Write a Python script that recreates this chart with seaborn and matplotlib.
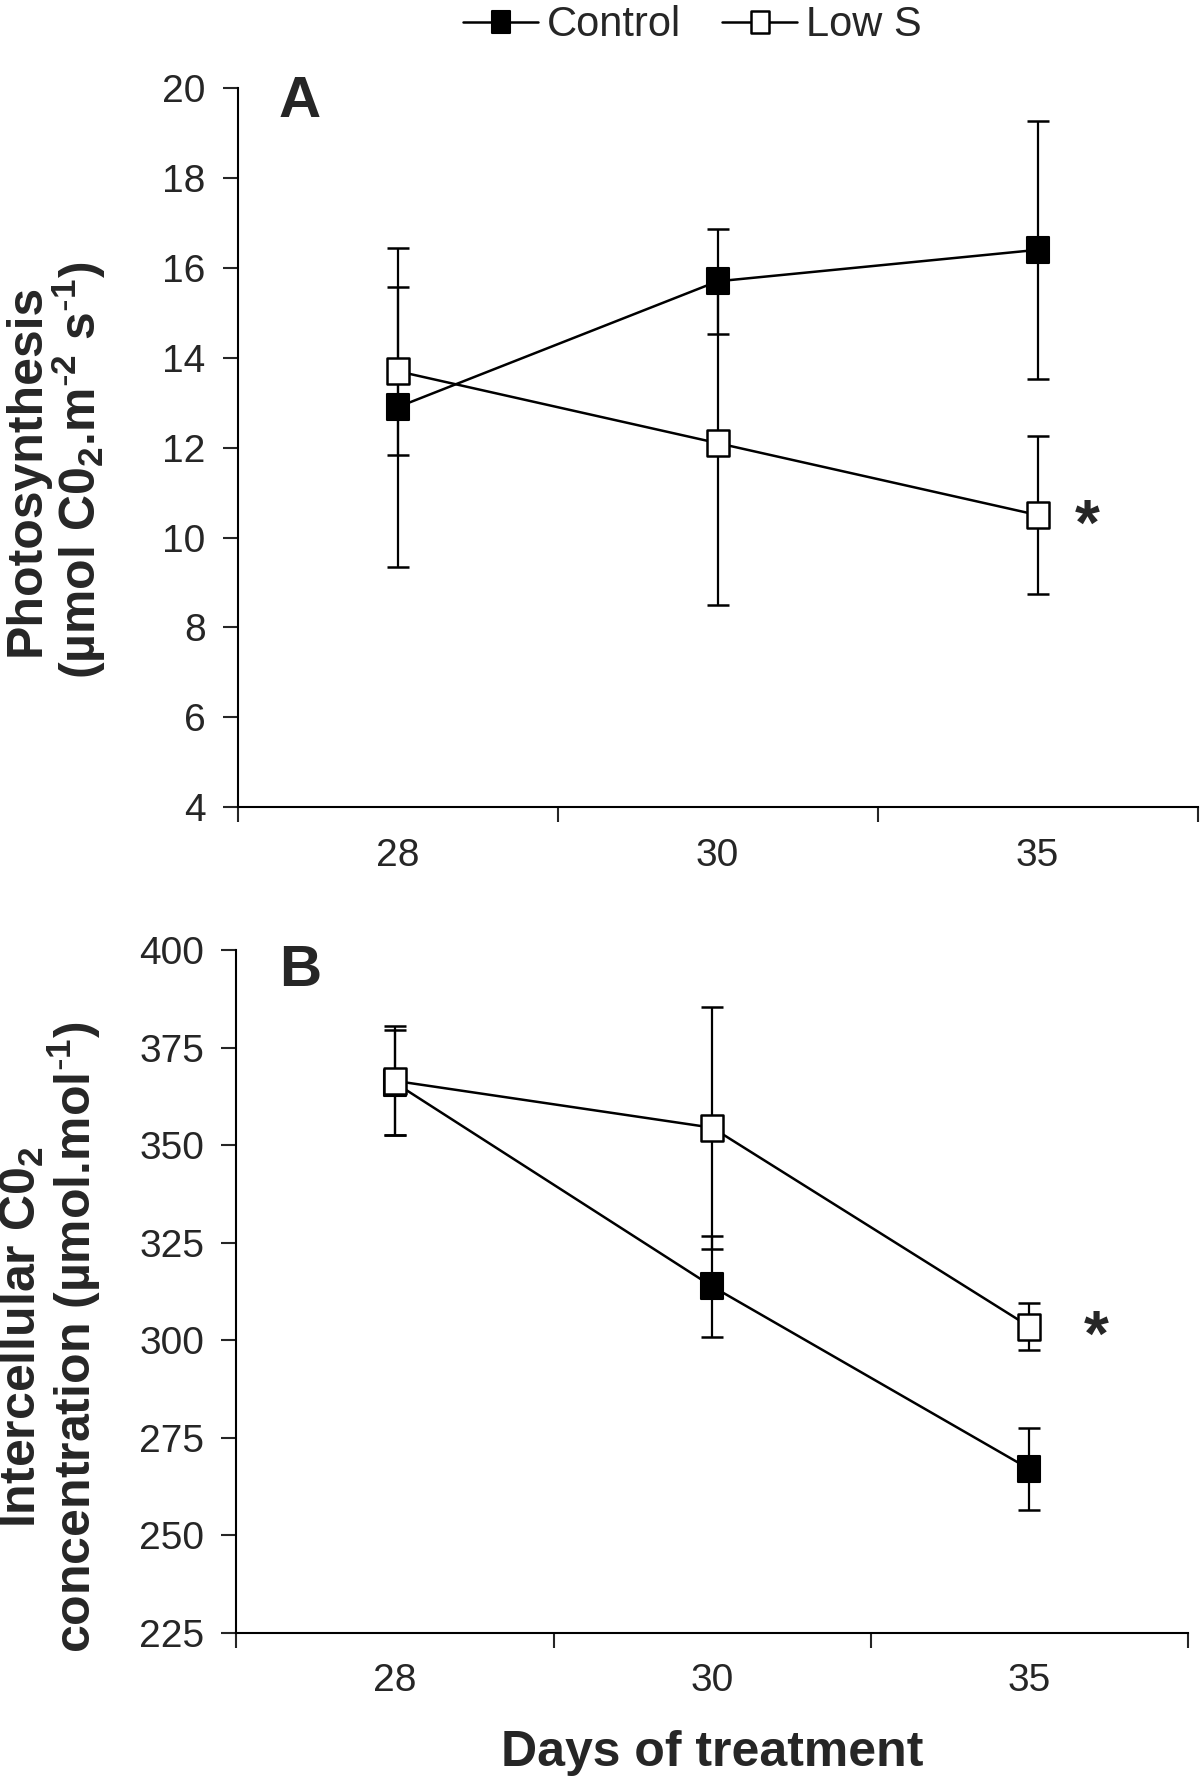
import numpy as np
import pandas as pd
import matplotlib
matplotlib.use("Agg")
import matplotlib.pyplot as plt
import seaborn as sns
from matplotlib.path import Path

# Days of treatment (categorical x axis)
days = ["28", "30", "35"]

# Panel A - photosynthesis (mean and error)
photo_control = [12.9, 15.7, 16.4]
photo_control_err = [3.55, 1.17, 2.87]
photo_lows = [13.7, 12.1, 10.5]
photo_lows_err = [1.87, 3.6, 1.76]

# Panel B - intercellular CO2 (mean and error)
ci_control = [366.0, 313.8, 267.0]
ci_control_err = [13.5, 12.9, 10.4]
ci_lows = [366.5, 354.5, 303.5]
ci_lows_err = [14.0, 31.0, 6.0]

sns.set_style("ticks")
plt.rcParams['font.family'] = ['Liberation Sans', 'DejaVu Sans']
plt.rcParams['mathtext.default'] = 'regular'

# slightly tall square marker, like the original
rect = Path([(-0.42, -0.5), (0.42, -0.5), (0.42, 0.5), (-0.42, 0.5), (-0.42, -0.5)],
            [Path.MOVETO, Path.LINETO, Path.LINETO, Path.LINETO, Path.CLOSEPOLY])


def draw_panel(ax, control, control_err, lows, lows_err, ylim, yticks,
               ylabel, label_xy, letter, letter_xy, star_dx):
    pos = np.arange(len(days))
    df = pd.DataFrame({'pos': pos, 'Control': control, 'Low S': lows})

    ax.errorbar(pos, control, yerr=control_err, fmt='none', ecolor='black',
                elinewidth=1.6, capsize=8, capthick=1.8, zorder=2)
    ax.errorbar(pos, lows, yerr=lows_err, fmt='none', ecolor='black',
                elinewidth=1.6, capsize=8, capthick=1.8, zorder=2)

    sns.lineplot(data=df, x='pos', y='Control', ax=ax, color='black', lw=1.8,
                 marker=rect, markersize=19, markerfacecolor='black',
                 markeredgecolor='black', markeredgewidth=1.5,
                 label='Control', zorder=3)
    sns.lineplot(data=df, x='pos', y='Low S', ax=ax, color='black', lw=1.8,
                 marker=rect, markersize=19, markerfacecolor='white',
                 markeredgecolor='black', markeredgewidth=1.8,
                 label='Low S', zorder=4)

    ax.set_xlim(-0.5, len(days) - 0.5)
    ax.set_xticks(np.arange(len(days) + 1) - 0.5)
    ax.set_xticklabels([])
    ax.set_xticks(pos, minor=True)
    ax.set_xticklabels(days, minor=True)
    ax.tick_params(axis='x', which='minor', length=0, pad=22, labelsize=28)
    ax.tick_params(axis='x', which='major', length=11, width=1.5)
    ax.set_ylim(*ylim)
    ax.set_yticks(yticks)
    ax.tick_params(axis='y', length=11, width=1.5, pad=12, labelsize=28)

    ax.set_xlabel('')
    ax.set_ylabel(ylabel, fontsize=36, fontweight='bold', linespacing=1.0)
    ax.yaxis.set_label_coords(*label_xy)

    ax.text(*letter_xy, letter, transform=ax.transAxes, fontsize=42,
            fontweight='bold', ha='center', va='center')
    ax.annotate('*', xy=(pos[-1], lows[-1]), xytext=(star_dx, -9),
                textcoords='offset points', fontsize=46, fontweight='bold',
                ha='center', va='center')

    sns.despine(ax=ax)
    for sp in ['left', 'bottom']:
        ax.spines[sp].set_linewidth(1.5)
        ax.spines[sp].set_color('black')


fig = plt.figure(figsize=(12, 17.78), dpi=100)
ax_a = fig.add_axes([0.198, 0.546, 0.80, 0.4045])
ax_b = fig.add_axes([0.197, 0.0816, 0.793, 0.384])

draw_panel(ax_a, photo_control, photo_control_err, photo_lows, photo_lows_err,
           (4, 20), np.arange(4, 21, 2),
           'Photosynthesis\n(µmol C0$_2$.m$^{\\text{-}2}$ s$^{\\text{-}1}$)', (-0.135, 0.469),
           'A', (0.065, 0.98), 36)
draw_panel(ax_b, ci_control, ci_control_err, ci_lows, ci_lows_err,
           (225, 400), np.arange(225, 401, 25),
           'Intercellular C0$_2$\nconcentration (µmol.mol$^{\\text{-}1}$)', (-0.14, 0.433),
           'B', (0.067, 0.97), 48)

ax_b.set_xlabel('Days of treatment', fontsize=36, fontweight='bold', labelpad=22)

handles, labels = ax_a.get_legend_handles_labels()
ax_a.get_legend().remove()
ax_b.get_legend().remove()
fig.legend(handles, labels, loc='upper center', bbox_to_anchor=(0.577, 1.018),
           ncol=2, frameon=False, fontsize=30, handlelength=1.8,
           handletextpad=0.2, columnspacing=1.0, markerscale=0.85)

fig.savefig('out.png', dpi=100)
